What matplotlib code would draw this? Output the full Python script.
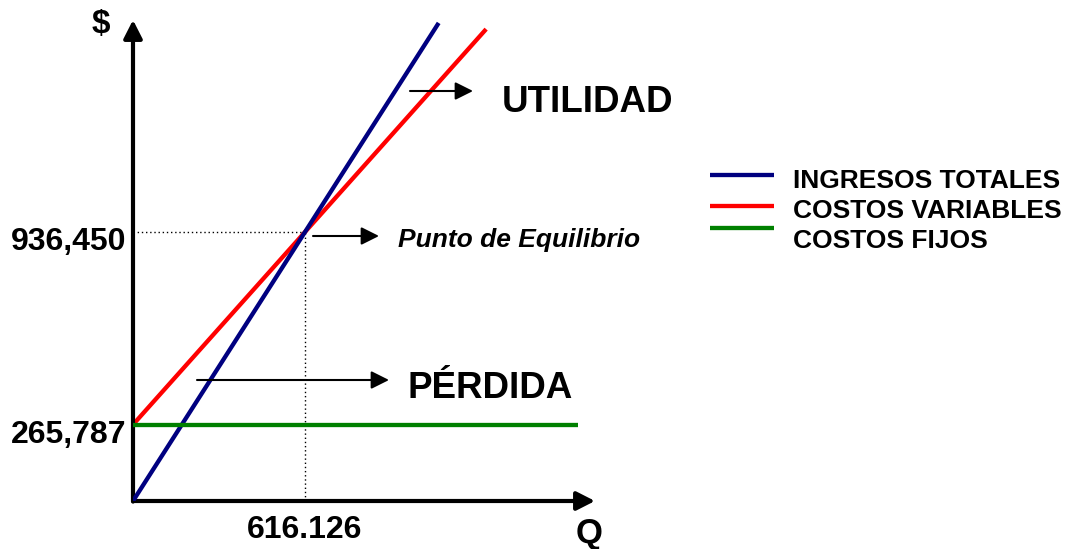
import numpy as np
import matplotlib.pyplot as plt
import matplotlib.transforms as mtransforms
from matplotlib.lines import Line2D

# datos del punto de equilibrio
q_eq = 616.126
y_eq = 936450
costo_fijo = 265787

series = ['INGRESOS TOTALES', 'COSTOS VARIABLES', 'COSTOS FIJOS']
colores = ['#000080', '#ff0000', '#008000']

q_ingresos = [0, 1095]
q_variables = [0, 1265]
q_fijos = [0, 1594]

xmax = 1655
ymax = 1674500

W, H = 1084, 549


def px(x, y):
    # pixel (desde arriba a la izquierda) -> fraccion de figura
    return (x / W, 1 - y / H)


plt.rcParams['font.family'] = ['Liberation Sans', 'DejaVu Sans']
plt.rcParams['font.weight'] = 'bold'

fig = plt.figure(figsize=(W / 100, H / 100), dpi=100)
ax = fig.add_axes([133 / W, (H - 501) / H, (595 - 133) / W, (501 - 20) / H])
ax.set_xlim(0, xmax)
ax.set_ylim(0, ymax)
for s in ax.spines.values():
    s.set_visible(False)

pend_ing = y_eq / q_eq
pend_var = (y_eq - costo_fijo) / q_eq
q1 = np.array(q_ingresos)
q2 = np.array(q_variables)
ax.plot(q2, costo_fijo + pend_var * q2, color=colores[1], lw=3.1, solid_capstyle='butt', zorder=3)
ax.plot(q1, pend_ing * q1, color=colores[0], lw=3.1, solid_capstyle='butt', zorder=4)
ax.plot(q_fijos, [costo_fijo, costo_fijo], color=colores[2], lw=3.1, solid_capstyle='butt', zorder=5)

# lineas punteadas del equilibrio
ax.plot([0, q_eq], [y_eq, y_eq], color='black', lw=1, ls=(0, (1, 2)), zorder=2)
ax.plot([q_eq, q_eq], [0, y_eq], color='black', lw=1, ls=(0, (1, 2)), zorder=2)

# ejes con flecha
eje = dict(arrowstyle='-|>,head_length=0.55,head_width=0.28', color='black',
           lw=3, shrinkA=0, shrinkB=0, mutation_scale=20)
ax.annotate('', xy=(xmax, 0), xytext=(0, 0), arrowprops=eje, annotation_clip=False)
ax.annotate('', xy=(0, ymax), xytext=(0, -2000), arrowprops=eje, annotation_clip=False)

ax.set_xticks([q_eq], ['616.126'])
ax.set_yticks([costo_fijo, y_eq], ['265,787', '936,450'])
ax.tick_params(axis='x', length=0, pad=10, labelsize=23)
ax.tick_params(axis='y', length=0, pad=5, labelsize=23)
baja = mtransforms.ScaledTranslation(0, -5 / 72, fig.dpi_scale_trans)
for t in ax.get_yticklabels():
    t.set_transform(t.get_transform() + baja)
for t in ax.get_xticklabels() + ax.get_yticklabels():
    t.set_fontweight('bold')

fig.text(*px(101, 25), '$', fontsize=24, ha='center', va='center')
fig.text(*px(589, 534), 'Q', fontsize=25, ha='center', va='center')

# flechas de anotacion
flecha = dict(arrowstyle='-|>,head_length=0.72,head_width=0.36', color='black',
              lw=1.5, shrinkA=0, shrinkB=0, mutation_scale=15)
fig.add_artist(plt.Annotation('', xy=px(473, 91), xytext=px(410, 91), xycoords='figure fraction',
                              textcoords='figure fraction', arrowprops=flecha))
fig.add_artist(plt.Annotation('', xy=px(379, 236), xytext=px(313, 236), xycoords='figure fraction',
                              textcoords='figure fraction', arrowprops=flecha))
fig.add_artist(plt.Annotation('', xy=px(389, 380), xytext=px(197, 380), xycoords='figure fraction',
                              textcoords='figure fraction', arrowprops=flecha))

fig.text(*px(502, 103), 'UTILIDAD', fontsize=26.5, ha='left', va='center')
fig.text(*px(407, 389), 'PÉRDIDA', fontsize=26.5, ha='left', va='center')
fig.text(*px(398, 240), 'Punto de Equilibrio', fontsize=19, style='italic', ha='left', va='center')

# leyenda
lineas_y = [175, 206, 228]
textos_y = [181, 211, 241]
for nombre, c, ly, ty in zip(series, colores, lineas_y, textos_y):
    x0, y0 = px(710, ly)
    x1, _ = px(774, ly)
    fig.add_artist(Line2D([x0, x1], [y0, y0], color=c, lw=3.1, solid_capstyle='butt'))
    fig.text(*px(793, ty), nombre, fontsize=19, ha='left', va='center')

fig.savefig('out.png', dpi=100)
